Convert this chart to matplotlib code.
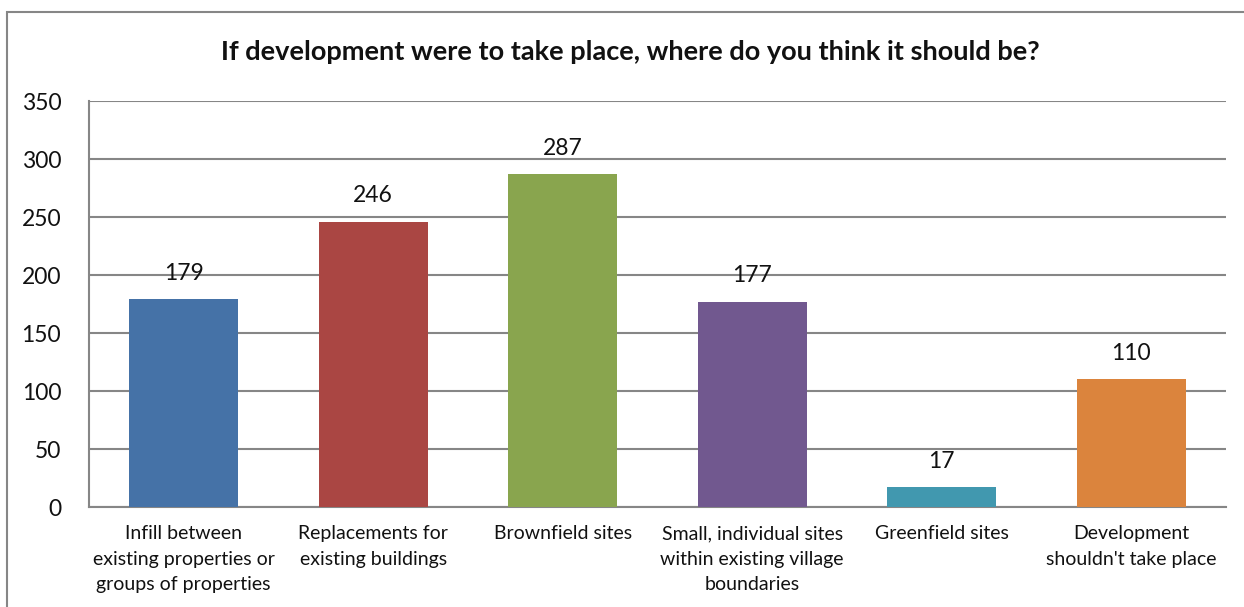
import matplotlib
matplotlib.use("Agg")
import matplotlib.pyplot as plt
from matplotlib.patches import Rectangle

categories = [
    "Infill between\nexisting properties or\ngroups of properties",
    "Replacements for\nexisting buildings",
    "Brownfield sites",
    "Small, individual sites\nwithin existing village\nboundaries",
    "Greenfield sites",
    "Development\nshouldn't take place",
]
values = [179, 246, 287, 177, 17, 110]
colors = ["#4572A7", "#AA4643", "#89A54E", "#71588F", "#4198AF", "#DB843D"]
yticks = [0, 50, 100, 150, 200, 250, 300, 350]
title = "If development were to take place, where do you think it should be?"

plt.rcParams['font.family'] = ['Lato', 'DejaVu Sans']
W, H = 1244, 607
fig = plt.figure(figsize=(W / 100, H / 100), dpi=100)
ax = fig.add_axes([89 / W, 1 - 507 / H, (1226 - 89) / W, (507 - 101) / H])

grid_c = "#868686"
x = list(range(len(values)))
ax.bar(x, values, width=0.575, color=colors, zorder=3)
ax.set_xlim(-0.5, len(values) - 0.5)
ax.set_ylim(0, 350)
ax.set_yticks(yticks)
ax.set_yticklabels([str(v) for v in yticks], fontsize=16.5, color="#111111")
ax.set_xticks(x)
ax.set_xticklabels(categories, fontsize=14, linespacing=1.62, color="#111111")
ax.tick_params(axis='both', length=0)
ax.tick_params(axis='y', pad=20)
ax.tick_params(axis='x', pad=13)
ax.grid(axis='y', color=grid_c, linewidth=1.5, zorder=0)
for s in ['top', 'right']:
    ax.spines[s].set_visible(False)
for s in ['left', 'bottom']:
    ax.spines[s].set_color(grid_c)
    ax.spines[s].set_linewidth(1.5)

for xi, v in zip(x, values):
    ax.annotate(str(v), (xi, v), xytext=(0, 11), textcoords='offset points',
                ha='center', va='bottom', fontsize=16.5, color="#111111")

fig.text(630 / W, 1 - 52 / H, title, ha='center', va='center',
         fontsize=19.5, fontweight='bold', color="#111111")

fig.patches.append(Rectangle((7 / W, -0.2), 1.2, 1 - 12 / H + 0.2,
                             transform=fig.transFigure, fill=False,
                             edgecolor=grid_c, linewidth=1.5))

fig.savefig("out.png", dpi=100, facecolor="white")
